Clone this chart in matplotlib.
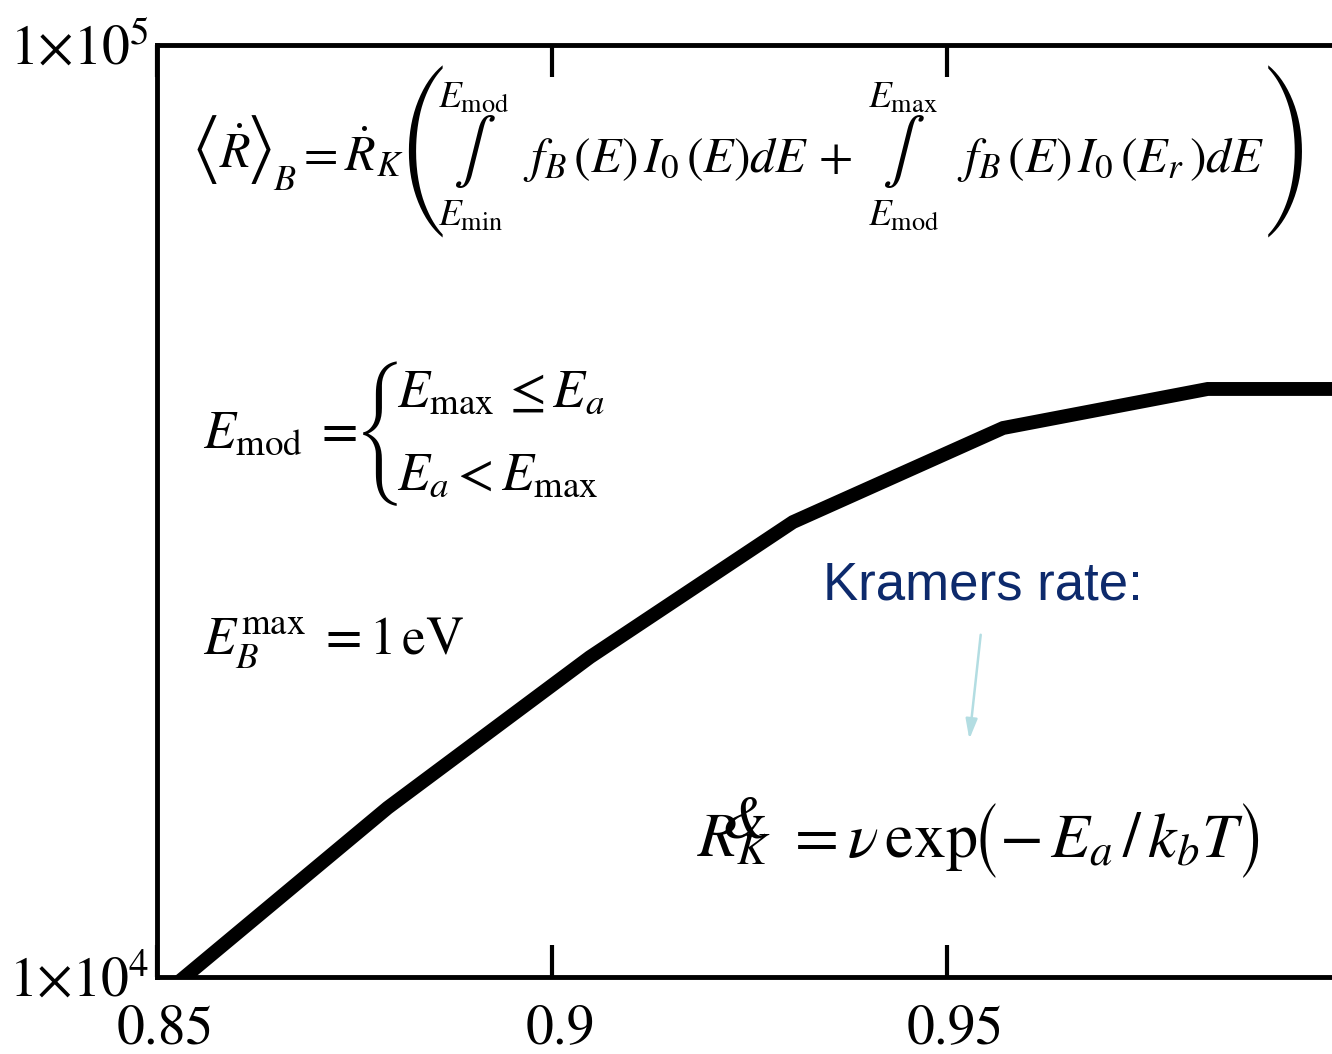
import matplotlib
matplotlib.use("Agg")
import matplotlib.pyplot as plt
from matplotlib.ticker import NullLocator
from matplotlib.transforms import ScaledTranslation

plt.rcParams["mathtext.fontset"] = "stix"
plt.rcParams["font.family"] = "STIXGeneral"

# averaged rate vs. parameter (log scale)
x_vals = [0.8535, 0.8792, 0.9048, 0.9305, 0.9571, 0.9830, 1.0]
rate_vals = [10000, 15190, 22040, 30770, 38820, 42750, 42750]

x_ticks = [0.85, 0.9, 0.95, 1.0]
x_tick_labels = ["0.85", "0.9", "0.95", ""]
y_ticks = [1e4, 1e5]
y_tick_labels = [r"$1{\times}10^{4}$", r"$1{\times}10^{5}$"]

W, H = 1332, 1054
fig = plt.figure(figsize=(W / 100, H / 100), dpi=100)


def px(x, y):
    return x / W, 1 - y / H


ax = fig.add_axes([157 / W, 77 / H, 1185 / W, 932 / H])
ax.plot(x_vals, rate_vals, color="black", linewidth=10, solid_joinstyle="miter")
ax.set_yscale("log")
ax.set_xlim(0.85, 1.0)
ax.set_ylim(1e4, 1e5)

ax.set_xticks(x_ticks, x_tick_labels)
ax.set_yticks(y_ticks, y_tick_labels)
ax.yaxis.set_minor_locator(NullLocator())
ax.xaxis.set_minor_locator(NullLocator())
ax.tick_params(axis="x", direction="in", top=True, length=23, width=3,
               labelsize=40, pad=20)
ax.tick_params(axis="y", length=0, labelsize=40, pad=6)
for lbl in ax.get_xticklabels():
    lbl.set_transform(lbl.get_transform() + ScaledTranslation(0.08, 0, fig.dpi_scale_trans))
for sp in ax.spines.values():
    sp.set_linewidth(3.5)

# averaged rate expression
fs = 36
fs_lim = 27
fig.text(*px(207, 150), "\u27e8", family="STIXSizeOneSym", fontsize=40, ha="center", va="center")
fig.text(*px(219, 168), r"$\dot{R}$", fontsize=fs)
fig.text(*px(261, 150), "\u27e9", family="STIXSizeOneSym", fontsize=40, ha="center", va="center")
fig.text(*px(273, 190), r"$B$", fontsize=26)
fig.text(*px(296, 170), r"$=\dot{R}_K$", fontsize=fs)
fig.text(*px(424, 152), "(", family="STIXSizeFourSym", fontsize=40, ha="center", va="center")
fig.text(*px(1286, 152), ")", family="STIXSizeFourSym", fontsize=40, ha="center", va="center")

fig.text(*px(438, 108), r"$E_{\mathrm{mod}}$", fontsize=fs_lim)
fig.text(*px(474, 151), r"$\int$", fontsize=46, ha="center", va="center")
fig.text(*px(438, 226), r"$E_{\mathrm{min}}$", fontsize=fs_lim)
fig.text(*px(523, 172), r"$f_B\,(E)\,I_0\,(E)dE\,+$", fontsize=fs)

fig.text(*px(868, 108), r"$E_{\mathrm{max}}$", fontsize=fs_lim)
fig.text(*px(903, 151), r"$\int$", fontsize=46, ha="center", va="center")
fig.text(*px(868, 226), r"$E_{\mathrm{mod}}$", fontsize=fs_lim)
fig.text(*px(957, 172), r"$f_B\,(E)\,I_0\,(E_r\,)dE$", fontsize=fs)

# E_mod definition
fs2 = 38
fig.text(*px(203, 448), r"$E_{\mathrm{mod}}\;=$", fontsize=fs2)
fig.text(*px(380, 434), "{", family="STIXSizeFourSym", fontsize=34, ha="center", va="center")
fig.text(*px(397, 407), r"$E_{\mathrm{max}}\,\leq E_a$", fontsize=fs2)
fig.text(*px(397, 490), r"$E_a < E_{\mathrm{max}}$", fontsize=fs2)
fig.text(*px(203, 655), r"$E_B^{\mathrm{max}}\;=1\,\mathrm{eV}$", fontsize=fs2)

# Kramers rate
fig.text(*px(823, 600), "Kramers rate:", family="Liberation Sans", fontsize=38, color="#0d2a6c")
ax.annotate("", xy=px(969, 742), xytext=px(981, 632), xycoords="figure fraction",
            textcoords="figure fraction",
            arrowprops=dict(arrowstyle="-|>,head_length=1.2,head_width=0.35",
                            color="#b3dde2", lw=1.8))
fs3 = 46
fig.text(*px(697, 857), r"$R_K$", fontsize=fs3)
fig.text(*px(720, 838), "&", fontsize=44, style="italic")
fig.text(*px(785, 857), r"$=\nu\,\mathrm{exp}$", fontsize=fs3)
fig.text(*px(986, 840), "(", family="STIXSizeOneSym", fontsize=44, ha="center", va="center")
fig.text(*px(999, 857), r"$-\,E_a\,/\,k_bT$", fontsize=fs3)
fig.text(*px(1252, 840), ")", family="STIXSizeOneSym", fontsize=44, ha="center", va="center")

fig.savefig("out.png", dpi=100)
